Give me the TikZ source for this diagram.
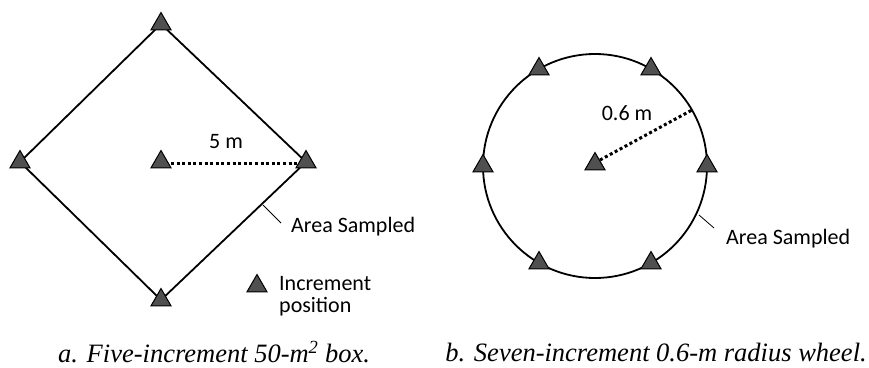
\documentclass[tikz,border=0pt]{standalone}
\usepackage{fontspec}
\setmainfont{Liberation Serif}
\newfontfamily\labfont{Carlito}
\usetikzlibrary{shapes.geometric,calc}
\definecolor{trifill}{HTML}{505050}
\tikzset{
  incr/.style={regular polygon, regular polygon sides=3, draw=black, line width=1pt, fill=trifill, minimum size=23pt, inner sep=0pt},
  border/.style={line width=1.8pt, draw=black},
  radius line/.style={line width=3pt, dash pattern=on 3pt off 2.6pt},
  lab/.style={font=\labfont\fontsize{22}{25}\selectfont, inner sep=0pt, align=left},
  captext/.style={font=\itshape\fontsize{26.5}{30}\selectfont, inner sep=0pt},
  leader/.style={line width=0.8pt}
}
\begin{document}
\begin{tikzpicture}[x=1pt,y=-1pt]
\useasboundingbox (0,0) rectangle (869,367);
% ---- panel a ----
\coordinate (aT) at (161,24);
\coordinate (aL) at (20,162);
\coordinate (aR) at (306,162);
\coordinate (aB) at (161,300);
\coordinate (aC) at (161,162);
\draw[border] (aT) -- (aR) -- (aB) -- (aL) -- cycle;
\node[incr] (tT) at (aT) {};
\node[incr] (tL) at (aL) {};
\node[incr] (tR) at (aR) {};
\node[incr] (tB) at (aB) {};
\node[incr] (tC) at (aC) {};
\coordinate (dA1) at (171,163);
\coordinate (dA2) at (298,163);
\draw[radius line] (dA1) -- (dA2);
\node[lab] (l5) at (226,142) {5 m};
\coordinate (aLd1) at (263,205);
\coordinate (aLd2) at (281,223);
\draw[leader] (aLd1) -- (aLd2);
\node[lab, anchor=west] (areaA) at (291,227) {Area Sampled};
\node[incr] (legT) at (257,286) {};
\node[lab, anchor=north west] (legL) at (279,276) {Increment\\[-3pt]position};
\node[captext] (capA) at (214,352) {a. Five-increment 50-\textit{m}\textsuperscript{2} box.};
% ---- panel b ----
\coordinate (bC) at (595,166);
\draw[border] (bC) circle [radius=112];
\foreach \a/\n in {0/b0,60/b60,120/b120,180/b180,240/b240,300/b300}
  \node[incr] (\n) at ($(bC)+(-\a:112)$) {};
\node[incr] (bCt) at ($(bC)+(0,-2)$) {};
\coordinate (dB1) at (600,160);
\coordinate (dB2) at ($(bC)+(-30:112)$);
\draw[radius line] (dB1) -- (dB2);
\node[lab] (l06) at (627,113) {0.6 m};
\coordinate (bLd1) at (699,215);
\coordinate (bLd2) at (714,228);
\draw[leader] (bLd1) -- (bLd2);
\node[lab, anchor=west] (areaB) at (726,239) {Area Sampled};
\node[captext] (capB) at (656,352) {b. Seven-increment 0.6-m radius wheel.};
\end{tikzpicture}
\end{document}
